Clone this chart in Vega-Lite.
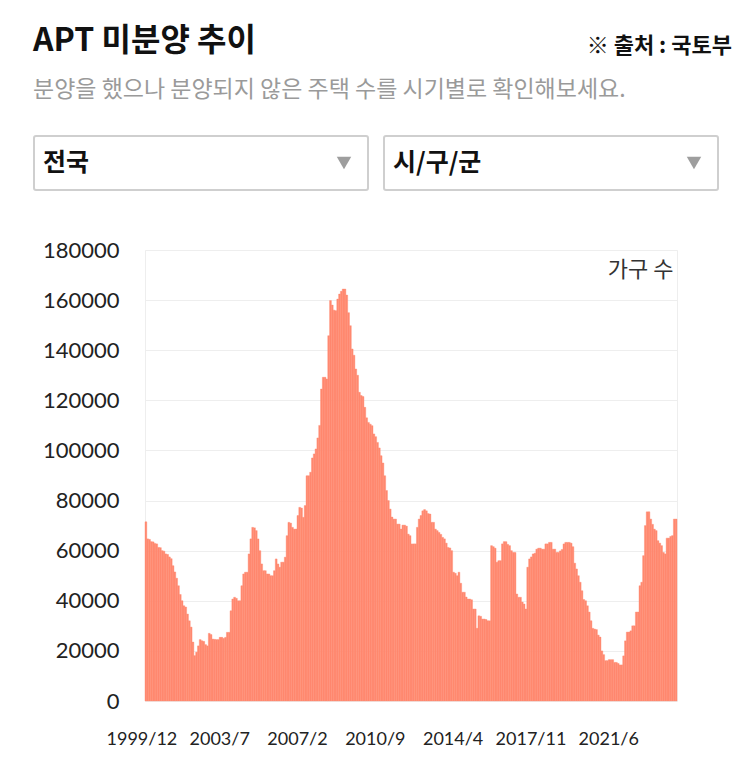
{
  "$schema": "https://vega.github.io/schema/vega-lite/v6.json",
  "background": "white",
  "padding": {"left": 33, "top": 25, "right": 20, "bottom": 5},
  "title": {"text": "※ 출처 : 국토부", "anchor": "end", "fontSize": 22, "fontWeight": "bold", "font": "Noto Sans CJK KR", "color": "#111111", "dy": 33, "dx": 13, "offset": 0},
  "columns": 1,
  "spacing": 47,
  "concat": [
    {
      "width": 573,
      "height": 54,
      "view": {"stroke": null},
      "title": {"text": "APT 미분양 추이", "subtitle": "분양을 했으나 분양되지 않은 주택 수를 시기별로 확인해보세요.", "anchor": "start", "fontSize": 32, "fontWeight": "bold", "font": "Noto Sans CJK KR", "color": "#111111", "subtitleFont": "Noto Sans CJK KR", "subtitleFontSize": 23, "subtitleColor": "#9a9a9a", "subtitlePadding": 21, "offset": 32},
      "data": {"values": [{"region": "전국"}, {"region": "시/구/군"}]},
      "layer": [
        {
          "mark": {"type": "rect", "fill": "white", "stroke": "#cfcfcf", "strokeWidth": 2, "cornerRadius": 2},
          "encoding": {"x": {"field": "region", "type": "nominal", "sort": null, "scale": {"paddingInner": 0.0457, "paddingOuter": 0, "range": [-111, 573]}, "axis": null}}
        },
        {
          "mark": {"type": "text", "align": "left", "dx": 9, "fontSize": 25, "fontWeight": "bold", "color": "#111111", "font": "Noto Sans CJK KR"},
          "encoding": {"x": {"field": "region", "type": "nominal", "sort": null, "bandPosition": 0, "axis": null}, "text": {"field": "region"}}
        },
        {
          "mark": {"type": "point", "shape": "triangle-down", "filled": true, "color": "#9e9e9e", "opacity": 1, "size": 210, "xOffset": -24},
          "encoding": {"x": {"field": "region", "type": "nominal", "sort": null, "bandPosition": 1, "axis": null}}
        }
      ]
    },
    {
      "width": 532,
      "height": 451,
      "data": {"values": [
        {"m":"1999/12","v":71500},
        {"m":"2000/1","v":64700},{"m":"2000/2","v":64500},{"m":"2000/3","v":63600},{"m":"2000/4","v":63500},{"m":"2000/5","v":62900},{"m":"2000/6","v":62700},{"m":"2000/7","v":61300},{"m":"2000/8","v":61200},{"m":"2000/9","v":60000},{"m":"2000/10","v":59800},{"m":"2000/11","v":58700},{"m":"2000/12","v":58500},
        {"m":"2001/1","v":57500},{"m":"2001/2","v":56800},{"m":"2001/3","v":54000},{"m":"2001/4","v":51500},{"m":"2001/5","v":49000},{"m":"2001/6","v":46000},{"m":"2001/7","v":42500},{"m":"2001/8","v":40000},{"m":"2001/9","v":38000},{"m":"2001/10","v":37500},{"m":"2001/11","v":34700},{"m":"2001/12","v":32000},
        {"m":"2002/1","v":29500},{"m":"2002/2","v":23500},{"m":"2002/3","v":18100},{"m":"2002/4","v":19500},{"m":"2002/5","v":22000},{"m":"2002/6","v":24500},{"m":"2002/7","v":24000},{"m":"2002/8","v":23800},{"m":"2002/9","v":22500},{"m":"2002/10","v":22000},{"m":"2002/11","v":27000},{"m":"2002/12","v":26500},
        {"m":"2003/1","v":24700},{"m":"2003/2","v":24600},{"m":"2003/3","v":24500},{"m":"2003/4","v":24500},{"m":"2003/5","v":25400},{"m":"2003/6","v":25400},{"m":"2003/7","v":25000},{"m":"2003/8","v":25400},{"m":"2003/9","v":27400},{"m":"2003/10","v":27400},{"m":"2003/11","v":36000},{"m":"2003/12","v":40700},
        {"m":"2004/1","v":41400},{"m":"2004/2","v":41000},{"m":"2004/3","v":40000},{"m":"2004/4","v":40000},{"m":"2004/5","v":46000},{"m":"2004/6","v":50700},{"m":"2004/7","v":51400},{"m":"2004/8","v":51400},{"m":"2004/9","v":58700},{"m":"2004/10","v":64700},{"m":"2004/11","v":69300},{"m":"2004/12","v":69100},
        {"m":"2005/1","v":68000},{"m":"2005/2","v":64700},{"m":"2005/3","v":60000},{"m":"2005/4","v":54700},{"m":"2005/5","v":52000},{"m":"2005/6","v":52000},{"m":"2005/7","v":50700},{"m":"2005/8","v":50700},{"m":"2005/9","v":50000},{"m":"2005/10","v":50000},{"m":"2005/11","v":52000},{"m":"2005/12","v":56700},
        {"m":"2006/1","v":54700},{"m":"2006/2","v":53400},{"m":"2006/3","v":55400},{"m":"2006/4","v":55400},{"m":"2006/5","v":57400},{"m":"2006/6","v":66000},{"m":"2006/7","v":71300},{"m":"2006/8","v":71000},{"m":"2006/9","v":69300},{"m":"2006/10","v":68600},{"m":"2006/11","v":68600},{"m":"2006/12","v":74000},
        {"m":"2007/1","v":77300},{"m":"2007/2","v":77000},{"m":"2007/3","v":73300},{"m":"2007/4","v":78000},{"m":"2007/5","v":89900},{"m":"2007/6","v":89900},{"m":"2007/7","v":91300},{"m":"2007/8","v":97000},{"m":"2007/9","v":98600},{"m":"2007/10","v":100600},{"m":"2007/11","v":105000},{"m":"2007/12","v":110000},
        {"m":"2008/1","v":124500},{"m":"2008/2","v":129200},{"m":"2008/3","v":129200},{"m":"2008/4","v":128500},{"m":"2008/5","v":145800},{"m":"2008/6","v":159800},{"m":"2008/7","v":158000},{"m":"2008/8","v":156000},{"m":"2008/9","v":155800},{"m":"2008/10","v":160400},{"m":"2008/11","v":162400},{"m":"2008/12","v":163500},
        {"m":"2009/1","v":164400},{"m":"2009/2","v":164400},{"m":"2009/3","v":162000},{"m":"2009/4","v":155000},{"m":"2009/5","v":149800},{"m":"2009/6","v":140500},{"m":"2009/7","v":138000},{"m":"2009/8","v":132500},{"m":"2009/9","v":130000},{"m":"2009/10","v":123200},{"m":"2009/11","v":121900},{"m":"2009/12","v":121500},
        {"m":"2010/1","v":117200},{"m":"2010/2","v":113000},{"m":"2010/3","v":111200},{"m":"2010/4","v":110500},{"m":"2010/5","v":109900},{"m":"2010/6","v":106600},{"m":"2010/7","v":105500},{"m":"2010/8","v":103200},{"m":"2010/9","v":101000},{"m":"2010/10","v":97900},{"m":"2010/11","v":95000},{"m":"2010/12","v":89900},
        {"m":"2011/1","v":84000},{"m":"2011/2","v":80000},{"m":"2011/3","v":76600},{"m":"2011/4","v":73400},{"m":"2011/5","v":72600},{"m":"2011/6","v":72600},{"m":"2011/7","v":70600},{"m":"2011/8","v":70600},{"m":"2011/9","v":68600},{"m":"2011/10","v":70200},{"m":"2011/11","v":70200},{"m":"2011/12","v":69800},
        {"m":"2012/1","v":66600},{"m":"2012/2","v":66000},{"m":"2012/3","v":62700},{"m":"2012/4","v":62700},{"m":"2012/5","v":62700},{"m":"2012/6","v":69300},{"m":"2012/7","v":72600},{"m":"2012/8","v":74000},{"m":"2012/9","v":75900},{"m":"2012/10","v":76400},{"m":"2012/11","v":75900},{"m":"2012/12","v":74800},
        {"m":"2013/1","v":74600},{"m":"2013/2","v":71300},{"m":"2013/3","v":71300},{"m":"2013/4","v":68600},{"m":"2013/5","v":68000},{"m":"2013/6","v":67300},{"m":"2013/7","v":66500},{"m":"2013/8","v":65300},{"m":"2013/9","v":64700},{"m":"2013/10","v":63000},{"m":"2013/11","v":61300},{"m":"2013/12","v":61100},
        {"m":"2014/1","v":60000},{"m":"2014/2","v":51400},{"m":"2014/3","v":51000},{"m":"2014/4","v":50000},{"m":"2014/5","v":51400},{"m":"2014/6","v":47000},{"m":"2014/7","v":43400},{"m":"2014/8","v":43400},{"m":"2014/9","v":41500},{"m":"2014/10","v":40700},{"m":"2014/11","v":40700},{"m":"2014/12","v":40400},
        {"m":"2015/1","v":36700},{"m":"2015/2","v":36700},{"m":"2015/3","v":29000},{"m":"2015/4","v":34000},{"m":"2015/5","v":33800},{"m":"2015/6","v":32700},{"m":"2015/7","v":32700},{"m":"2015/8","v":32500},{"m":"2015/9","v":32000},{"m":"2015/10","v":32000},{"m":"2015/11","v":62000},{"m":"2015/12","v":61600},
        {"m":"2016/1","v":61000},{"m":"2016/2","v":55400},{"m":"2016/3","v":56000},{"m":"2016/4","v":56000},{"m":"2016/5","v":62700},{"m":"2016/6","v":63600},{"m":"2016/7","v":63600},{"m":"2016/8","v":62500},{"m":"2016/9","v":62000},{"m":"2016/10","v":60000},{"m":"2016/11","v":59300},{"m":"2016/12","v":59300},
        {"m":"2017/1","v":42700},{"m":"2017/2","v":41400},{"m":"2017/3","v":41400},{"m":"2017/4","v":39500},{"m":"2017/5","v":38700},{"m":"2017/6","v":36700},{"m":"2017/7","v":53400},{"m":"2017/8","v":56700},{"m":"2017/9","v":57500},{"m":"2017/10","v":58700},{"m":"2017/11","v":59000},{"m":"2017/12","v":60600},
        {"m":"2018/1","v":61000},{"m":"2018/2","v":61000},{"m":"2018/3","v":60600},{"m":"2018/4","v":60600},{"m":"2018/5","v":62700},{"m":"2018/6","v":62700},{"m":"2018/7","v":63300},{"m":"2018/8","v":63300},{"m":"2018/9","v":60600},{"m":"2018/10","v":60600},{"m":"2018/11","v":59300},{"m":"2018/12","v":59300},
        {"m":"2019/1","v":59900},{"m":"2019/2","v":60500},{"m":"2019/3","v":62700},{"m":"2019/4","v":63300},{"m":"2019/5","v":63300},{"m":"2019/6","v":63300},{"m":"2019/7","v":63000},{"m":"2019/8","v":61600},{"m":"2019/9","v":55000},{"m":"2019/10","v":52700},{"m":"2019/11","v":50000},{"m":"2019/12","v":47400},
        {"m":"2020/1","v":44000},{"m":"2020/2","v":40500},{"m":"2020/3","v":40000},{"m":"2020/4","v":38000},{"m":"2020/5","v":35500},{"m":"2020/6","v":32000},{"m":"2020/7","v":29000},{"m":"2020/8","v":28700},{"m":"2020/9","v":28500},{"m":"2020/10","v":26300},{"m":"2020/11","v":25500},{"m":"2020/12","v":20000},
        {"m":"2021/1","v":18500},{"m":"2021/2","v":16100},{"m":"2021/3","v":16100},{"m":"2021/4","v":16500},{"m":"2021/5","v":16500},{"m":"2021/6","v":16500},{"m":"2021/7","v":15400},{"m":"2021/8","v":15400},{"m":"2021/9","v":15000},{"m":"2021/10","v":14400},{"m":"2021/11","v":14400},{"m":"2021/12","v":18000},
        {"m":"2022/1","v":24000},{"m":"2022/2","v":27500},{"m":"2022/3","v":27500},{"m":"2022/4","v":28000},{"m":"2022/5","v":30000},{"m":"2022/6","v":30000},{"m":"2022/7","v":35500},{"m":"2022/8","v":35500},{"m":"2022/9","v":46000},{"m":"2022/10","v":47400},{"m":"2022/11","v":58000},{"m":"2022/12","v":70000},
        {"m":"2023/1","v":75500},{"m":"2023/2","v":75500},{"m":"2023/3","v":72600},{"m":"2023/4","v":70500},{"m":"2023/5","v":68600},{"m":"2023/6","v":68000},{"m":"2023/7","v":64000},{"m":"2023/8","v":63000},{"m":"2023/9","v":62000},{"m":"2023/10","v":59300},{"m":"2023/11","v":58700},{"m":"2023/12","v":65000},
        {"m":"2024/1","v":65000},{"m":"2024/2","v":65700},{"m":"2024/3","v":66000},{"m":"2024/4","v":72600},{"m":"2024/5","v":72600}
      ]},
      "mark": {"type": "bar", "color": "#ff8970", "stroke": "#ff8970", "strokeWidth": 0.4},
      "encoding": {
        "x": {"field": "m", "type": "ordinal", "sort": null, "scale": {"paddingInner": 0, "paddingOuter": 0},
          "axis": {"values": ["1999/12","2003/7","2007/2","2010/9","2014/4","2017/11","2021/6"], "labelAngle": 0, "ticks": false, "domain": false, "grid": false, "labelPadding": 29, "labelOffset": -4, "title": null, "labelFontSize": 18, "labelFont": "Lato", "labelColor": "#222222"}},
        "y": {"field": "v", "type": "quantitative", "scale": {"domain": [0, 180000], "nice": false},
          "axis": {"values": [0,20000,40000,60000,80000,100000,120000,140000,160000,180000], "format": "d", "ticks": false, "domain": false, "labelPadding": 26, "minExtent": 111, "gridColor": "#eeeeee", "labelFontSize": 22, "labelFont": "Lato", "labelColor": "#222222", "title": "가구 수", "titleAngle": 0, "titleAlign": "right", "titleBaseline": "top", "titleX": 528, "titleY": 9, "titleFontSize": 22, "titleFontWeight": "normal", "titleFont": "Noto Sans CJK KR", "titleColor": "#333333"}}
      }
    }
  ],
  "config": {
    "view": {"stroke": "#eeeeee"},
    "font": "Noto Sans CJK KR"
  }
}
